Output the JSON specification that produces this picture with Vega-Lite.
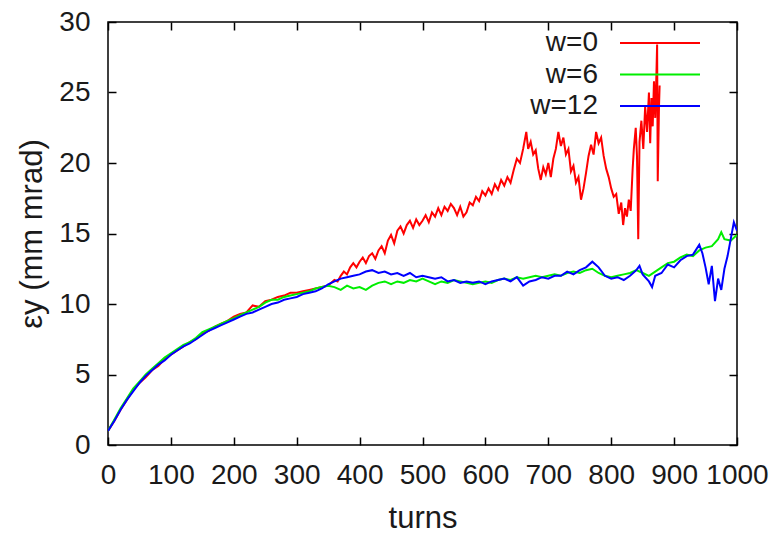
{
  "$schema": "https://vega.github.io/schema/vega-lite/v6.json",
  "width": 629,
  "height": 423,
  "autosize": "none",
  "padding": {"left": 108, "top": 22, "right": 47, "bottom": 91},
  "background": "white",
  "config": {
    "view": {"stroke": "black", "strokeWidth": 1.5},
    "font": "Liberation Sans",
    "axis": {"grid": false, "domain": false, "labelFont": "Liberation Sans", "labelFontSize": 28, "labelColor": "#1a1a1a", "titleFont": "Liberation Sans", "titleFontSize": 31, "titleFontWeight": "normal", "titleColor": "#1a1a1a", "tickColor": "black", "tickWidth": 1.5, "labelOverlap": false, "labelFlush": false, "format": "d"}
  },
  "data": {"values": [
    {"t":0,"v":1.0,"s":"w=0"},{"t":10,"v":1.7,"s":"w=0"},{"t":20,"v":2.5,"s":"w=0"},{"t":30,"v":3.2,"s":"w=0"},{"t":40,"v":3.9,"s":"w=0"},{"t":50,"v":4.4,"s":"w=0"},{"t":60,"v":4.8,"s":"w=0"},{"t":70,"v":5.3,"s":"w=0"},{"t":80,"v":5.6,"s":"w=0"},{"t":90,"v":6.1,"s":"w=0"},{"t":100,"v":6.4,"s":"w=0"},{"t":110,"v":6.7,"s":"w=0"},{"t":120,"v":7.0,"s":"w=0"},{"t":130,"v":7.3,"s":"w=0"},{"t":140,"v":7.5,"s":"w=0"},{"t":150,"v":7.9,"s":"w=0"},{"t":160,"v":8.1,"s":"w=0"},{"t":170,"v":8.4,"s":"w=0"},{"t":180,"v":8.6,"s":"w=0"},{"t":190,"v":8.8,"s":"w=0"},{"t":200,"v":9.1,"s":"w=0"},{"t":210,"v":9.3,"s":"w=0"},{"t":220,"v":9.4,"s":"w=0"},{"t":230,"v":9.9,"s":"w=0"},{"t":240,"v":9.8,"s":"w=0"},{"t":250,"v":10.2,"s":"w=0"},{"t":260,"v":10.3,"s":"w=0"},{"t":270,"v":10.5,"s":"w=0"},{"t":280,"v":10.6,"s":"w=0"},{"t":290,"v":10.8,"s":"w=0"},{"t":300,"v":10.8,"s":"w=0"},{"t":310,"v":10.9,"s":"w=0"},{"t":320,"v":11.0,"s":"w=0"},{"t":330,"v":11.1,"s":"w=0"},{"t":340,"v":11.2,"s":"w=0"},
    {"t":350,"v":11.3,"s":"w=0"},{"t":355,"v":11.5,"s":"w=0"},{"t":360,"v":11.7,"s":"w=0"},{"t":365,"v":11.6,"s":"w=0"},{"t":370,"v":12.0,"s":"w=0"},{"t":375,"v":12.3,"s":"w=0"},{"t":380,"v":12.1,"s":"w=0"},{"t":385,"v":12.6,"s":"w=0"},{"t":390,"v":12.9,"s":"w=0"},{"t":395,"v":12.6,"s":"w=0"},{"t":400,"v":13.0,"s":"w=0"},{"t":405,"v":13.3,"s":"w=0"},{"t":410,"v":12.9,"s":"w=0"},{"t":415,"v":13.4,"s":"w=0"},{"t":420,"v":13.6,"s":"w=0"},{"t":425,"v":13.2,"s":"w=0"},{"t":430,"v":13.8,"s":"w=0"},{"t":435,"v":14.1,"s":"w=0"},{"t":440,"v":13.6,"s":"w=0"},{"t":445,"v":14.5,"s":"w=0"},{"t":450,"v":14.9,"s":"w=0"},{"t":455,"v":14.3,"s":"w=0"},{"t":460,"v":15.2,"s":"w=0"},{"t":465,"v":15.5,"s":"w=0"},{"t":470,"v":15.0,"s":"w=0"},{"t":475,"v":15.6,"s":"w=0"},{"t":480,"v":15.9,"s":"w=0"},{"t":485,"v":15.4,"s":"w=0"},{"t":490,"v":16.0,"s":"w=0"},{"t":495,"v":15.6,"s":"w=0"},{"t":500,"v":15.9,"s":"w=0"},{"t":505,"v":16.3,"s":"w=0"},{"t":510,"v":15.8,"s":"w=0"},{"t":515,"v":16.5,"s":"w=0"},{"t":520,"v":16.2,"s":"w=0"},{"t":525,"v":16.8,"s":"w=0"},{"t":530,"v":16.3,"s":"w=0"},{"t":535,"v":16.9,"s":"w=0"},{"t":540,"v":16.6,"s":"w=0"},{"t":545,"v":17.1,"s":"w=0"},{"t":550,"v":16.8,"s":"w=0"},{"t":555,"v":16.3,"s":"w=0"},{"t":560,"v":16.9,"s":"w=0"},{"t":565,"v":16.2,"s":"w=0"},{"t":570,"v":16.5,"s":"w=0"},{"t":575,"v":17.2,"s":"w=0"},{"t":580,"v":17.0,"s":"w=0"},{"t":585,"v":17.6,"s":"w=0"},{"t":590,"v":17.3,"s":"w=0"},{"t":595,"v":18.0,"s":"w=0"},{"t":600,"v":17.7,"s":"w=0"},{"t":605,"v":18.2,"s":"w=0"},{"t":610,"v":17.8,"s":"w=0"},{"t":615,"v":18.5,"s":"w=0"},{"t":620,"v":18.1,"s":"w=0"},{"t":625,"v":18.8,"s":"w=0"},{"t":630,"v":18.4,"s":"w=0"},{"t":635,"v":19.0,"s":"w=0"},{"t":640,"v":18.6,"s":"w=0"},{"t":645,"v":19.5,"s":"w=0"},{"t":650,"v":20.3,"s":"w=0"},{"t":655,"v":20.0,"s":"w=0"},{"t":660,"v":21.0,"s":"w=0"},{"t":665,"v":22.2,"s":"w=0"},{"t":668,"v":21.0,"s":"w=0"},{"t":672,"v":21.5,"s":"w=0"},{"t":676,"v":20.6,"s":"w=0"},{"t":680,"v":20.9,"s":"w=0"},{"t":684,"v":19.6,"s":"w=0"},{"t":688,"v":18.8,"s":"w=0"},{"t":692,"v":19.7,"s":"w=0"},{"t":696,"v":19.2,"s":"w=0"},{"t":700,"v":20.0,"s":"w=0"},{"t":704,"v":19.0,"s":"w=0"},{"t":708,"v":20.3,"s":"w=0"},{"t":712,"v":21.0,"s":"w=0"},{"t":716,"v":22.2,"s":"w=0"},{"t":720,"v":21.2,"s":"w=0"},{"t":724,"v":21.8,"s":"w=0"},{"t":728,"v":20.6,"s":"w=0"},{"t":732,"v":21.0,"s":"w=0"},{"t":736,"v":19.4,"s":"w=0"},{"t":740,"v":19.8,"s":"w=0"},{"t":744,"v":18.6,"s":"w=0"},{"t":748,"v":19.0,"s":"w=0"},{"t":752,"v":17.4,"s":"w=0"},{"t":756,"v":18.2,"s":"w=0"},{"t":760,"v":19.3,"s":"w=0"},{"t":764,"v":20.5,"s":"w=0"},{"t":768,"v":21.3,"s":"w=0"},{"t":772,"v":20.6,"s":"w=0"},{"t":776,"v":22.2,"s":"w=0"},{"t":780,"v":21.4,"s":"w=0"},{"t":784,"v":21.8,"s":"w=0"},{"t":788,"v":20.5,"s":"w=0"},{"t":792,"v":19.6,"s":"w=0"},{"t":796,"v":19.0,"s":"w=0"},{"t":800,"v":18.2,"s":"w=0"},{"t":804,"v":17.6,"s":"w=0"},{"t":808,"v":17.8,"s":"w=0"},{"t":812,"v":16.4,"s":"w=0"},{"t":816,"v":17.2,"s":"w=0"},{"t":819,"v":15.6,"s":"w=0"},{"t":822,"v":16.8,"s":"w=0"},{"t":825,"v":16.2,"s":"w=0"},{"t":828,"v":17.4,"s":"w=0"},{"t":831,"v":16.6,"s":"w=0"},{"t":834,"v":19.5,"s":"w=0"},{"t":836,"v":21.0,"s":"w=0"},{"t":839,"v":22.5,"s":"w=0"},{"t":841,"v":20.5,"s":"w=0"},{"t":843,"v":14.6,"s":"w=0"},{"t":845,"v":21.5,"s":"w=0"},{"t":848,"v":23.0,"s":"w=0"},{"t":851,"v":21.0,"s":"w=0"},{"t":854,"v":24.0,"s":"w=0"},{"t":857,"v":22.2,"s":"w=0"},{"t":860,"v":25.0,"s":"w=0"},{"t":862,"v":21.4,"s":"w=0"},{"t":864,"v":24.6,"s":"w=0"},{"t":866,"v":22.6,"s":"w=0"},{"t":868,"v":25.8,"s":"w=0"},{"t":870,"v":23.2,"s":"w=0"},{"t":872,"v":26.5,"s":"w=0"},{"t":873,"v":28.4,"s":"w=0"},{"t":874,"v":18.7,"s":"w=0"},{"t":876,"v":24.0,"s":"w=0"},{"t":877,"v":25.5,"s":"w=0"},
    {"t":0,"v":1.0,"s":"w=6"},{"t":10,"v":1.8,"s":"w=6"},{"t":20,"v":2.6,"s":"w=6"},{"t":30,"v":3.3,"s":"w=6"},{"t":40,"v":4.0,"s":"w=6"},{"t":50,"v":4.5,"s":"w=6"},{"t":60,"v":5.0,"s":"w=6"},{"t":70,"v":5.4,"s":"w=6"},{"t":80,"v":5.8,"s":"w=6"},{"t":90,"v":6.2,"s":"w=6"},{"t":100,"v":6.5,"s":"w=6"},{"t":110,"v":6.8,"s":"w=6"},{"t":120,"v":7.1,"s":"w=6"},{"t":130,"v":7.3,"s":"w=6"},{"t":140,"v":7.6,"s":"w=6"},{"t":150,"v":8.0,"s":"w=6"},{"t":160,"v":8.2,"s":"w=6"},{"t":170,"v":8.4,"s":"w=6"},{"t":180,"v":8.6,"s":"w=6"},{"t":190,"v":8.8,"s":"w=6"},{"t":200,"v":9.0,"s":"w=6"},{"t":210,"v":9.2,"s":"w=6"},{"t":220,"v":9.4,"s":"w=6"},{"t":230,"v":9.6,"s":"w=6"},{"t":240,"v":9.8,"s":"w=6"},{"t":250,"v":10.1,"s":"w=6"},{"t":260,"v":10.3,"s":"w=6"},{"t":270,"v":10.3,"s":"w=6"},{"t":280,"v":10.5,"s":"w=6"},{"t":290,"v":10.6,"s":"w=6"},{"t":300,"v":10.7,"s":"w=6"},{"t":310,"v":10.8,"s":"w=6"},{"t":320,"v":10.9,"s":"w=6"},{"t":330,"v":11.1,"s":"w=6"},{"t":340,"v":11.2,"s":"w=6"},{"t":350,"v":11.3,"s":"w=6"},{"t":360,"v":11.2,"s":"w=6"},{"t":370,"v":11.0,"s":"w=6"},{"t":380,"v":11.3,"s":"w=6"},{"t":390,"v":11.1,"s":"w=6"},{"t":400,"v":11.2,"s":"w=6"},{"t":410,"v":11.0,"s":"w=6"},{"t":420,"v":11.3,"s":"w=6"},{"t":430,"v":11.5,"s":"w=6"},{"t":440,"v":11.6,"s":"w=6"},{"t":450,"v":11.4,"s":"w=6"},{"t":460,"v":11.6,"s":"w=6"},{"t":470,"v":11.5,"s":"w=6"},{"t":480,"v":11.7,"s":"w=6"},{"t":490,"v":11.6,"s":"w=6"},{"t":500,"v":11.8,"s":"w=6"},{"t":510,"v":11.6,"s":"w=6"},{"t":520,"v":11.4,"s":"w=6"},{"t":530,"v":11.6,"s":"w=6"},{"t":540,"v":11.5,"s":"w=6"},{"t":550,"v":11.7,"s":"w=6"},{"t":560,"v":11.6,"s":"w=6"},{"t":570,"v":11.5,"s":"w=6"},{"t":580,"v":11.4,"s":"w=6"},{"t":590,"v":11.5,"s":"w=6"},{"t":600,"v":11.6,"s":"w=6"},{"t":610,"v":11.5,"s":"w=6"},{"t":620,"v":11.7,"s":"w=6"},{"t":630,"v":11.8,"s":"w=6"},{"t":640,"v":11.7,"s":"w=6"},{"t":650,"v":11.9,"s":"w=6"},{"t":660,"v":11.8,"s":"w=6"},{"t":670,"v":11.9,"s":"w=6"},{"t":680,"v":12.0,"s":"w=6"},{"t":690,"v":11.9,"s":"w=6"},{"t":700,"v":12.0,"s":"w=6"},{"t":710,"v":12.1,"s":"w=6"},{"t":720,"v":12.0,"s":"w=6"},{"t":730,"v":12.2,"s":"w=6"},{"t":740,"v":12.3,"s":"w=6"},{"t":750,"v":12.2,"s":"w=6"},{"t":760,"v":12.4,"s":"w=6"},{"t":770,"v":12.5,"s":"w=6"},{"t":780,"v":12.2,"s":"w=6"},{"t":790,"v":12.0,"s":"w=6"},{"t":800,"v":11.9,"s":"w=6"},{"t":810,"v":12.0,"s":"w=6"},{"t":820,"v":12.1,"s":"w=6"},{"t":830,"v":12.2,"s":"w=6"},{"t":840,"v":12.4,"s":"w=6"},{"t":850,"v":12.2,"s":"w=6"},{"t":860,"v":12.0,"s":"w=6"},{"t":870,"v":12.3,"s":"w=6"},{"t":880,"v":12.6,"s":"w=6"},{"t":890,"v":12.9,"s":"w=6"},{"t":900,"v":13.0,"s":"w=6"},{"t":910,"v":13.3,"s":"w=6"},{"t":920,"v":13.5,"s":"w=6"},{"t":930,"v":13.4,"s":"w=6"},{"t":940,"v":13.8,"s":"w=6"},{"t":950,"v":14.0,"s":"w=6"},{"t":960,"v":14.1,"s":"w=6"},{"t":970,"v":14.6,"s":"w=6"},{"t":975,"v":15.1,"s":"w=6"},{"t":980,"v":14.6,"s":"w=6"},{"t":990,"v":14.5,"s":"w=6"},{"t":1000,"v":14.9,"s":"w=6"},
    {"t":0,"v":1.0,"s":"w=12"},{"t":10,"v":1.7,"s":"w=12"},{"t":20,"v":2.5,"s":"w=12"},{"t":30,"v":3.2,"s":"w=12"},{"t":40,"v":3.8,"s":"w=12"},{"t":50,"v":4.4,"s":"w=12"},{"t":60,"v":4.9,"s":"w=12"},{"t":70,"v":5.3,"s":"w=12"},{"t":80,"v":5.7,"s":"w=12"},{"t":90,"v":6.0,"s":"w=12"},{"t":100,"v":6.4,"s":"w=12"},{"t":110,"v":6.7,"s":"w=12"},{"t":120,"v":7.0,"s":"w=12"},{"t":130,"v":7.2,"s":"w=12"},{"t":140,"v":7.5,"s":"w=12"},{"t":150,"v":7.8,"s":"w=12"},{"t":160,"v":8.1,"s":"w=12"},{"t":170,"v":8.3,"s":"w=12"},{"t":180,"v":8.5,"s":"w=12"},{"t":190,"v":8.7,"s":"w=12"},{"t":200,"v":8.9,"s":"w=12"},{"t":210,"v":9.1,"s":"w=12"},{"t":220,"v":9.3,"s":"w=12"},{"t":230,"v":9.4,"s":"w=12"},{"t":240,"v":9.6,"s":"w=12"},{"t":250,"v":9.8,"s":"w=12"},{"t":260,"v":10.0,"s":"w=12"},{"t":270,"v":10.1,"s":"w=12"},{"t":280,"v":10.3,"s":"w=12"},{"t":290,"v":10.4,"s":"w=12"},{"t":300,"v":10.5,"s":"w=12"},{"t":310,"v":10.7,"s":"w=12"},{"t":320,"v":10.8,"s":"w=12"},{"t":330,"v":10.9,"s":"w=12"},{"t":340,"v":11.1,"s":"w=12"},{"t":350,"v":11.4,"s":"w=12"},{"t":360,"v":11.6,"s":"w=12"},{"t":370,"v":11.8,"s":"w=12"},{"t":380,"v":11.9,"s":"w=12"},{"t":390,"v":12.0,"s":"w=12"},{"t":400,"v":12.1,"s":"w=12"},{"t":410,"v":12.3,"s":"w=12"},{"t":420,"v":12.4,"s":"w=12"},{"t":430,"v":12.2,"s":"w=12"},{"t":440,"v":12.3,"s":"w=12"},{"t":450,"v":12.1,"s":"w=12"},{"t":460,"v":12.2,"s":"w=12"},{"t":470,"v":12.0,"s":"w=12"},{"t":480,"v":12.2,"s":"w=12"},{"t":490,"v":11.9,"s":"w=12"},{"t":500,"v":12.0,"s":"w=12"},{"t":510,"v":11.9,"s":"w=12"},{"t":520,"v":11.8,"s":"w=12"},{"t":530,"v":11.9,"s":"w=12"},{"t":540,"v":11.6,"s":"w=12"},{"t":550,"v":11.7,"s":"w=12"},{"t":560,"v":11.5,"s":"w=12"},{"t":570,"v":11.6,"s":"w=12"},{"t":580,"v":11.5,"s":"w=12"},{"t":590,"v":11.6,"s":"w=12"},{"t":600,"v":11.4,"s":"w=12"},{"t":610,"v":11.6,"s":"w=12"},{"t":620,"v":11.7,"s":"w=12"},{"t":630,"v":11.8,"s":"w=12"},{"t":640,"v":11.6,"s":"w=12"},{"t":650,"v":11.9,"s":"w=12"},{"t":660,"v":11.3,"s":"w=12"},{"t":670,"v":11.6,"s":"w=12"},{"t":680,"v":11.7,"s":"w=12"},{"t":690,"v":11.9,"s":"w=12"},{"t":700,"v":11.8,"s":"w=12"},{"t":710,"v":12.0,"s":"w=12"},{"t":720,"v":12.0,"s":"w=12"},{"t":730,"v":12.3,"s":"w=12"},{"t":740,"v":12.1,"s":"w=12"},{"t":750,"v":12.4,"s":"w=12"},{"t":760,"v":12.6,"s":"w=12"},{"t":770,"v":13.0,"s":"w=12"},{"t":775,"v":12.8,"s":"w=12"},{"t":780,"v":12.6,"s":"w=12"},{"t":790,"v":12.0,"s":"w=12"},{"t":800,"v":11.8,"s":"w=12"},{"t":810,"v":11.9,"s":"w=12"},{"t":820,"v":11.7,"s":"w=12"},{"t":830,"v":12.0,"s":"w=12"},{"t":840,"v":12.4,"s":"w=12"},{"t":845,"v":12.7,"s":"w=12"},{"t":850,"v":12.1,"s":"w=12"},{"t":860,"v":11.6,"s":"w=12"},{"t":865,"v":11.2,"s":"w=12"},{"t":870,"v":12.0,"s":"w=12"},{"t":880,"v":12.2,"s":"w=12"},{"t":890,"v":12.8,"s":"w=12"},{"t":900,"v":12.6,"s":"w=12"},{"t":910,"v":13.1,"s":"w=12"},{"t":920,"v":13.4,"s":"w=12"},{"t":930,"v":13.5,"s":"w=12"},{"t":940,"v":14.2,"s":"w=12"},{"t":945,"v":13.6,"s":"w=12"},{"t":950,"v":12.6,"s":"w=12"},{"t":955,"v":11.4,"s":"w=12"},{"t":960,"v":12.7,"s":"w=12"},{"t":965,"v":10.2,"s":"w=12"},{"t":970,"v":11.8,"s":"w=12"},{"t":975,"v":11.0,"s":"w=12"},{"t":980,"v":12.5,"s":"w=12"},{"t":985,"v":13.4,"s":"w=12"},{"t":990,"v":14.6,"s":"w=12"},{"t":995,"v":15.8,"s":"w=12"},{"t":1000,"v":15.2,"s":"w=12"}
  ]},
  "resolve": {"axis": {"x": "independent", "y": "independent"}},
  "layer": [
    {
      "mark": {"type": "line", "strokeWidth": 2, "clip": true},
      "encoding": {
        "x": {"field": "t", "type": "quantitative", "scale": {"domain": [0, 1000], "nice": false}, "axis": {"orient": "bottom", "title": "turns", "values": [0,100,200,300,400,500,600,700,800,900,1000], "tickSize": -8, "labelPadding": 24, "titlePadding": 14}},
        "y": {"field": "v", "type": "quantitative", "scale": {"domain": [0, 30], "nice": false}, "axis": {"orient": "left", "title": "εy (mm mrad)", "values": [0,5,10,15,20,25,30], "tickSize": -8, "labelPadding": 26, "titlePadding": 10}},
        "color": {"field": "s", "type": "nominal", "sort": ["w=0", "w=6", "w=12"], "scale": {"domain": ["w=0", "w=6", "w=12"], "range": ["#ff0000", "#00ee00", "#0000ff"]},
          "legend": {"orient": "none", "legendX": 538, "legendY": 7, "title": null, "symbolType": "M-4,0H4", "symbolSize": 400, "symbolStrokeWidth": 2, "symbolFillColor": "transparent", "labelFontSize": 28, "labelColor": "#1a1a1a", "labelAlign": "right", "labelOffset": -76, "rowPadding": 3.5}},
        "order": {"field": "s"}
      }
    },
    {
      "mark": {"type": "line", "opacity": 0},
      "encoding": {
        "x": {"field": "t", "type": "quantitative", "axis": {"orient": "top", "title": null, "labels": false, "values": [0,100,200,300,400,500,600,700,800,900,1000], "tickSize": -8}},
        "y": {"field": "v", "type": "quantitative", "axis": {"orient": "right", "title": null, "labels": false, "values": [0,5,10,15,20,25,30], "tickSize": -8}}
      }
    }
  ]
}
